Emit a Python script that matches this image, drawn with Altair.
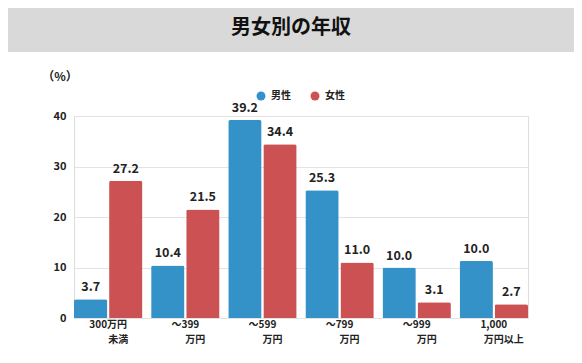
import altair as alt
import pandas as pd

title_text = "男女別の年収"
unit_text = "（%）"
categories = ["300万円未満", "～399万円", "～599万円", "～799万円", "～999万円", "1,000万円以上"]
label_line1 = ["300万円", "～399", "～599", "～799", "～999", "1,000"]
label_line2 = ["未満", "万円", "万円", "万円", "万円", "万円以上"]
series = ["男性", "女性"]
male_values = [3.7, 10.4, 39.2, 25.3, 10.0, 11.3]
male_labels = ["3.7", "10.4", "39.2", "25.3", "10.0", "10.0"]
female_values = [27.2, 21.5, 34.4, 11.0, 3.1, 2.7]
female_labels = ["27.2", "21.5", "34.4", "11.0", "3.1", "2.7"]
y_ticks = [0, 10, 20, 30, 40]

FONT = "Noto Sans CJK JP"
BLUE = "#3592C9"
RED = "#CC5152"

rows = []
for i, c in enumerate(categories):
    rows.append({"cat": c, "sex": series[0], "value": male_values[i], "label": male_labels[i]})
    rows.append({"cat": c, "sex": series[1], "value": female_values[i], "label": female_labels[i]})
df = pd.DataFrame(rows)
cat_df = pd.DataFrame({"cat": categories, "l1": label_line1, "l2": label_line2})
one = pd.DataFrame({"a": [0]})

xscale = alt.Scale(domain=categories, paddingInner=0.113, paddingOuter=0)
x_enc = alt.X("cat:N", scale=xscale, axis=None, sort=categories)
xoff = alt.XOffset("sex:N", sort=series, scale=alt.Scale(domain=series, paddingInner=0.05, paddingOuter=0))

band = alt.Chart(one).mark_rect(color="#D9D9D9").encode(
    x=alt.value(-66), x2=alt.value(500), y=alt.value(-108), y2=alt.value(-64)
)
title = alt.Chart(one).mark_text(
    text=title_text, font=FONT, fontSize=20, fontWeight="bold", color="#111111",
    align="center", baseline="middle"
).encode(x=alt.value(217), y=alt.value(-88))
unit = alt.Chart(one).mark_text(
    text=unit_text, font=FONT, fontSize=12, fontWeight="bold", color="#222222",
    align="center", baseline="middle"
).encode(x=alt.value(-14), y=alt.value(-39))

bars = alt.Chart(df).mark_bar(cornerRadiusTopLeft=2, cornerRadiusTopRight=2).encode(
    x=x_enc,
    xOffset=xoff,
    y=alt.Y("value:Q", scale=alt.Scale(domain=[0, 40], nice=False),
            axis=alt.Axis(values=y_ticks, grid=True, domain=False, ticks=False, title=None,
                          labelFont=FONT, labelFontSize=11, labelFontWeight="bold",
                          labelColor="#222222", labelPadding=8,
                          gridColor="#E3E3E3", gridWidth=1)),
    color=alt.Color("sex:N", sort=series,
                    scale=alt.Scale(domain=series, range=[BLUE, RED]),
                    legend=alt.Legend(orient="none", legendX=182, legendY=-25, direction="horizontal",
                                      title=None, symbolType="circle", symbolSize=80,
                                      symbolStrokeWidth=0, labelFont=FONT, labelFontSize=10,
                                      labelFontWeight="bold", labelColor="#222222",
                                      labelOffset=5, columnPadding=19, padding=0)),
)

value_text = alt.Chart(df).mark_text(
    font=FONT, fontSize=12.5, fontWeight="bold", color="#222222", baseline="middle", dy=-12
).encode(
    x=x_enc,
    xOffset=xoff,
    y=alt.Y("value:Q"),
    text="label:N",
)

line1 = alt.Chart(cat_df).mark_text(
    font=FONT, fontSize=10, fontWeight="bold", color="#222222", baseline="middle"
).encode(x=x_enc, y=alt.value(209), text="l1:N")
line2 = alt.Chart(cat_df).mark_text(
    font=FONT, fontSize=10, fontWeight="bold", color="#222222", baseline="middle", dx=10
).encode(x=x_enc, y=alt.value(223.5), text="l2:N")

chart = alt.layer(band, title, unit, bars, value_text, line1, line2).properties(
    width=454, height=202,
    autosize=alt.AutoSizeParams(type="none"),
    padding={"left": 66, "top": 108, "right": 46, "bottom": 37},
).configure_view(stroke=None).configure(background="white")

chart.save("out.html", embed_options={"renderer": "svg", "actions": False})
